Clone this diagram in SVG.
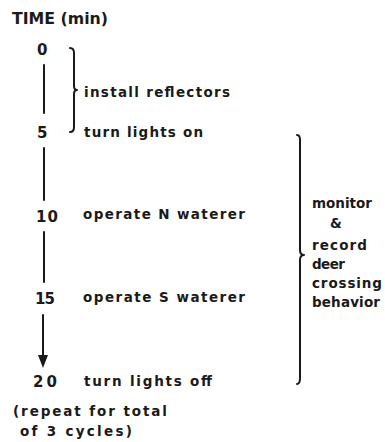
<svg xmlns="http://www.w3.org/2000/svg" width="385" height="442" viewBox="0 0 385 442">
  <style>
    text { font-family: "DejaVu Sans", "Liberation Sans", sans-serif; font-weight: bold; fill: #1a1a1a; }
    .lbl { font-size: 13.5px; }
    .num { font-size: 15px; }
    .title { font-size: 15px; }
    .ln { stroke: #1a1a1a; stroke-width: 2; fill: none; stroke-linecap: round; stroke-linejoin: round; }
  </style>
  <rect width="385" height="442" fill="#ffffff"/>

  <text id="title" class="title" x="12" y="24" textLength="96" lengthAdjust="spacingAndGlyphs">TIME (min)</text>

  <!-- timeline connectors -->
  <g id="connectors">
    <line class="ln" x1="44" y1="65" x2="44" y2="113"/>
    <line class="ln" x1="44" y1="148" x2="44" y2="200"/>
    <line class="ln" x1="44" y1="232" x2="44" y2="282"/>
    <line class="ln" x1="43" y1="315" x2="43" y2="356"/>
    <path d="M38,355 L48,355 L43,368 Z" fill="#1a1a1a"/>
  </g>

  <!-- time marks and steps -->
  <g id="t0">
    <text class="num" x="37" y="55">0</text>
  </g>
  <g id="t5">
    <text class="num" x="37" y="138">5</text>
    <text class="lbl" x="84" y="137" textLength="119" lengthAdjust="spacing">turn lights on</text>
  </g>
  <g id="t10">
    <text class="num" x="36" y="222" textLength="22" lengthAdjust="spacing">10</text>
    <text class="lbl" x="83" y="219" textLength="162" lengthAdjust="spacing">operate N waterer</text>
  </g>
  <g id="t15">
    <text class="num" x="35" y="304" textLength="20" lengthAdjust="spacing">15</text>
    <text class="lbl" x="83" y="302" textLength="162" lengthAdjust="spacing">operate S waterer</text>
  </g>
  <g id="t20">
    <text class="num" x="33" y="387" textLength="24" lengthAdjust="spacing">20</text>
    <text class="lbl" x="84" y="386" textLength="128" lengthAdjust="spacing">turn lights off</text>
  </g>

  <!-- setup bracket -->
  <g id="setup">
    <path class="ln" d="M70,48 Q74,48 74,53 L74,86 Q74,90 77,90 Q74,90 74,94 L74,127 Q74,132 70,132"/>
    <text class="lbl" x="84" y="97" textLength="146" lengthAdjust="spacing">install reflectors</text>
  </g>

  <!-- observation bracket -->
  <g id="monitor">
    <path class="ln" d="M297,135 Q300,135 300,140 L300,250 Q300,255 304,255 Q300,255 300,260 L300,378 Q300,384 297,384"/>
    <text class="lbl" x="312" y="208" textLength="60" lengthAdjust="spacing">monitor</text>
    <text class="lbl" x="336" y="228" text-anchor="middle">&amp;</text>
    <text class="lbl" x="312" y="250" textLength="55" lengthAdjust="spacing">record</text>
    <text class="lbl" x="312" y="269" textLength="33" lengthAdjust="spacing">deer</text>
    <text class="lbl" x="312" y="288" textLength="70" lengthAdjust="spacing">crossing</text>
    <text class="lbl" x="312" y="307" textLength="68" lengthAdjust="spacing">behavior</text>
  </g>

  <g id="note">
    <text class="lbl" x="13" y="416" textLength="154" lengthAdjust="spacing">(repeat for total</text>
    <text class="lbl" x="20" y="436" textLength="112" lengthAdjust="spacing">of 3 cycles)</text>
  </g>
</svg>
